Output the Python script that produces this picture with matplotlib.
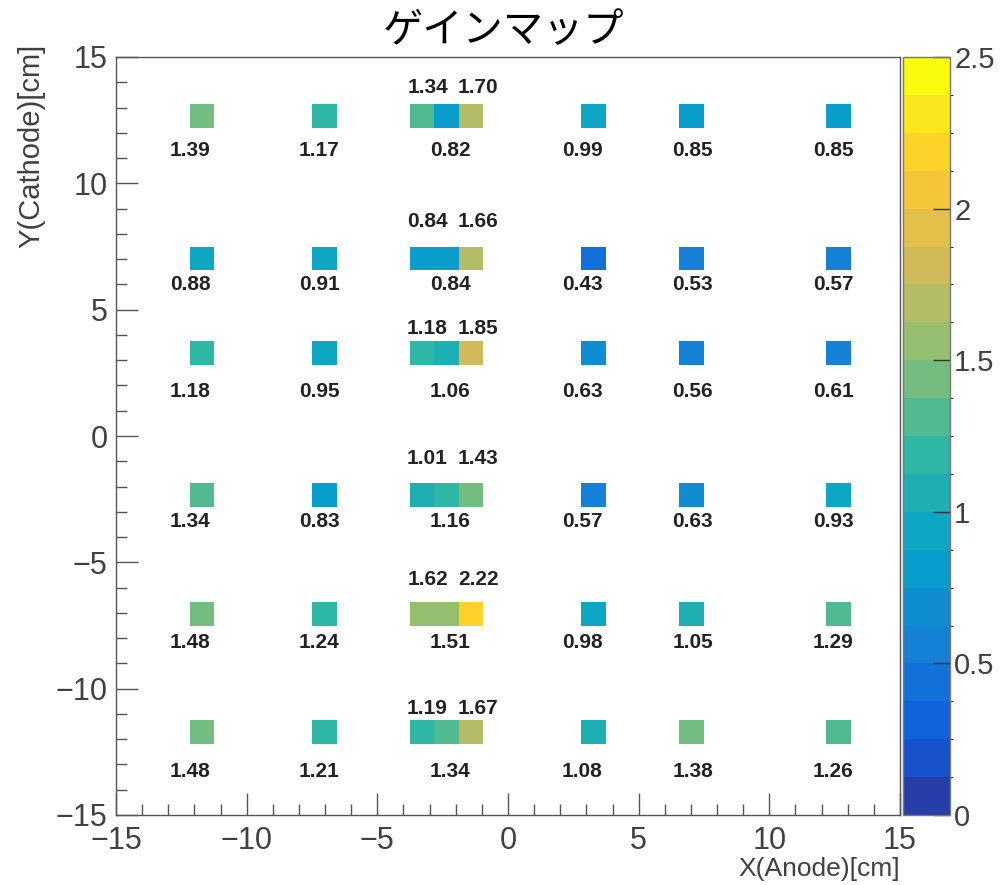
#!/usr/bin/env python3
# -*- coding: utf-8 -*-
"""
ゲインマップ描画
================
各PMTのゲインを 32x32 の2次元ヒストグラムに詰めて COLZ 風に表示し、
ゲイン値をテキストで重ねる。
"""

import numpy as np
import matplotlib
matplotlib.use('Agg')
import matplotlib.pyplot as plt
from matplotlib.colors import LinearSegmentedColormap, ListedColormap, BoundaryNorm
from matplotlib.ticker import MultipleLocator

plt.rcParams['font.family'] = ['Liberation Sans', 'Noto Sans CJK JP', 'DejaVu Sans']

# 測定位置 [cm]
pmt_x = [-12.15, -7.23, -3.08, -2.22, -1.14, 2.85, 7.06, 12.45]
pmt_y = [12.55, 7.24, 3.01, -2.15, -6.94, -12.03]

# 各位置のゲイン（行: pmt_y, 列: pmt_x）
gain = [
    [1.39, 1.17, 1.34, 0.82, 1.70, 0.99, 0.85, 0.85],
    [0.88, 0.91, 0.84, 0.84, 1.66, 0.43, 0.53, 0.57],
    [1.18, 0.95, 1.18, 1.06, 1.85, 0.63, 0.56, 0.61],
    [1.34, 0.83, 1.01, 1.16, 1.43, 0.57, 0.63, 0.93],
    [1.48, 1.24, 1.62, 1.51, 2.22, 0.98, 1.05, 1.29],
    [1.48, 1.21, 1.19, 1.34, 1.67, 1.08, 1.38, 1.26],
]

# 値を上側に書く列（中央の3連の両端）
label_above_cols = [2, 4]

# カラースケール
z_min, z_max, n_contour = 0.0, 2.5, 20
cbar_ticks = [0, 0.5, 1, 1.5, 2, 2.5]
x_ticks = [-15, -10, -5, 0, 5, 10, 15]
y_ticks = [-15, -10, -5, 0, 5, 10, 15]


def bird_cmap():
    """ROOT kBird パレット"""
    stops = [0.0000, 0.1250, 0.2500, 0.3750, 0.5000, 0.6250, 0.7500, 0.8750, 1.0000]
    red = [0.2082, 0.0592, 0.0780, 0.0232, 0.1802, 0.5301, 0.8186, 0.9956, 0.9764]
    green = [0.1664, 0.3599, 0.5041, 0.6419, 0.7178, 0.7492, 0.7328, 0.7862, 0.9832]
    blue = [0.5293, 0.8684, 0.8385, 0.7914, 0.6425, 0.4662, 0.3499, 0.1968, 0.0539]
    return LinearSegmentedColormap.from_list(
        'kBird', list(zip(stops, zip(red, green, blue))), N=255)


def contour_cmap(n):
    """ROOTと同じく255色から n 段を拾う"""
    bird = bird_cmap()
    cols = [bird(int((i + 0.99) * 255 / n)) for i in range(n)]
    return ListedColormap(cols)


def main():
    g = np.array(gain)
    xx, yy = np.meshgrid(pmt_x, pmt_y)

    # 32x32 ビンに詰める
    h, xe, ye = np.histogram2d(xx.ravel(), yy.ravel(), bins=32,
                               range=[[-15, 15], [-15, 15]], weights=g.ravel())
    cnt, _, _ = np.histogram2d(xx.ravel(), yy.ravel(), bins=32,
                               range=[[-15, 15], [-15, 15]])
    h = np.ma.masked_where(cnt == 0, h)

    levels = np.linspace(z_min, z_max, n_contour + 1)
    cmap = contour_cmap(n_contour)
    norm = BoundaryNorm(levels, n_contour)

    fig = plt.figure(figsize=(10.04, 8.85), dpi=100)
    ax = fig.add_axes([116 / 1004, 70 / 885, 784 / 1004, 758 / 885])
    cax = fig.add_axes([903 / 1004, 70 / 885, 47 / 1004, 758 / 885])

    mesh = ax.pcolormesh(xe, ye, h.T, cmap=cmap, norm=norm)

    # ゲイン値
    for i, y in enumerate(pmt_y):
        for j, x in enumerate(pmt_x):
            ty = y + 1.25 if j in label_above_cols else y - 1.25
            ax.text(x, ty, f'{gain[i][j]:.2f}', ha='center', va='center',
                    fontsize=15, fontweight='bold', color='#222222')

    ax.set_xlim(-15, 15)
    ax.set_ylim(-15, 15)
    ax.set_xticks(x_ticks)
    ax.set_yticks(y_ticks)
    ax.xaxis.set_minor_locator(MultipleLocator(1))
    ax.yaxis.set_minor_locator(MultipleLocator(1))
    ax.tick_params(which='both', direction='in', top=False, right=False,
                   color='#555555', width=1, labelsize=22, labelcolor='#404040')
    ax.tick_params(which='major', length=16)
    ax.tick_params(which='minor', length=8)
    ax.tick_params(axis='x', pad=8)
    ax.tick_params(axis='y', pad=6)
    for sp in ax.spines.values():
        sp.set_color('#555555')
        sp.set_linewidth(1)

    cb = fig.colorbar(mesh, cax=cax, ticks=cbar_ticks)
    cb.ax.set_yticklabels([f'{t:g}' for t in cbar_ticks])
    cb.ax.tick_params(direction='in', length=12, width=1, color='#333333',
                      labelsize=21, labelcolor='#404040', pad=3)
    cb.outline.set_edgecolor('#777777')
    cb.outline.set_linewidth(1)

    fig.text(0.502, 1 - 31 / 885, 'ゲインマップ', ha='center', va='center',
             fontsize=29, color='black')
    fig.text(900 / 1004, 1 - 869 / 885, 'X(Anode)[cm]', ha='right', va='center',
             fontsize=19, color='#404040')
    fig.text(31 / 1004, 1 - 44 / 885, 'Y(Cathode)[cm]', ha='center', va='top',
             rotation=90, fontsize=21, color='#404040')

    fig.savefig('out.png', dpi=100)
    plt.close(fig)


if __name__ == '__main__':
    main()
